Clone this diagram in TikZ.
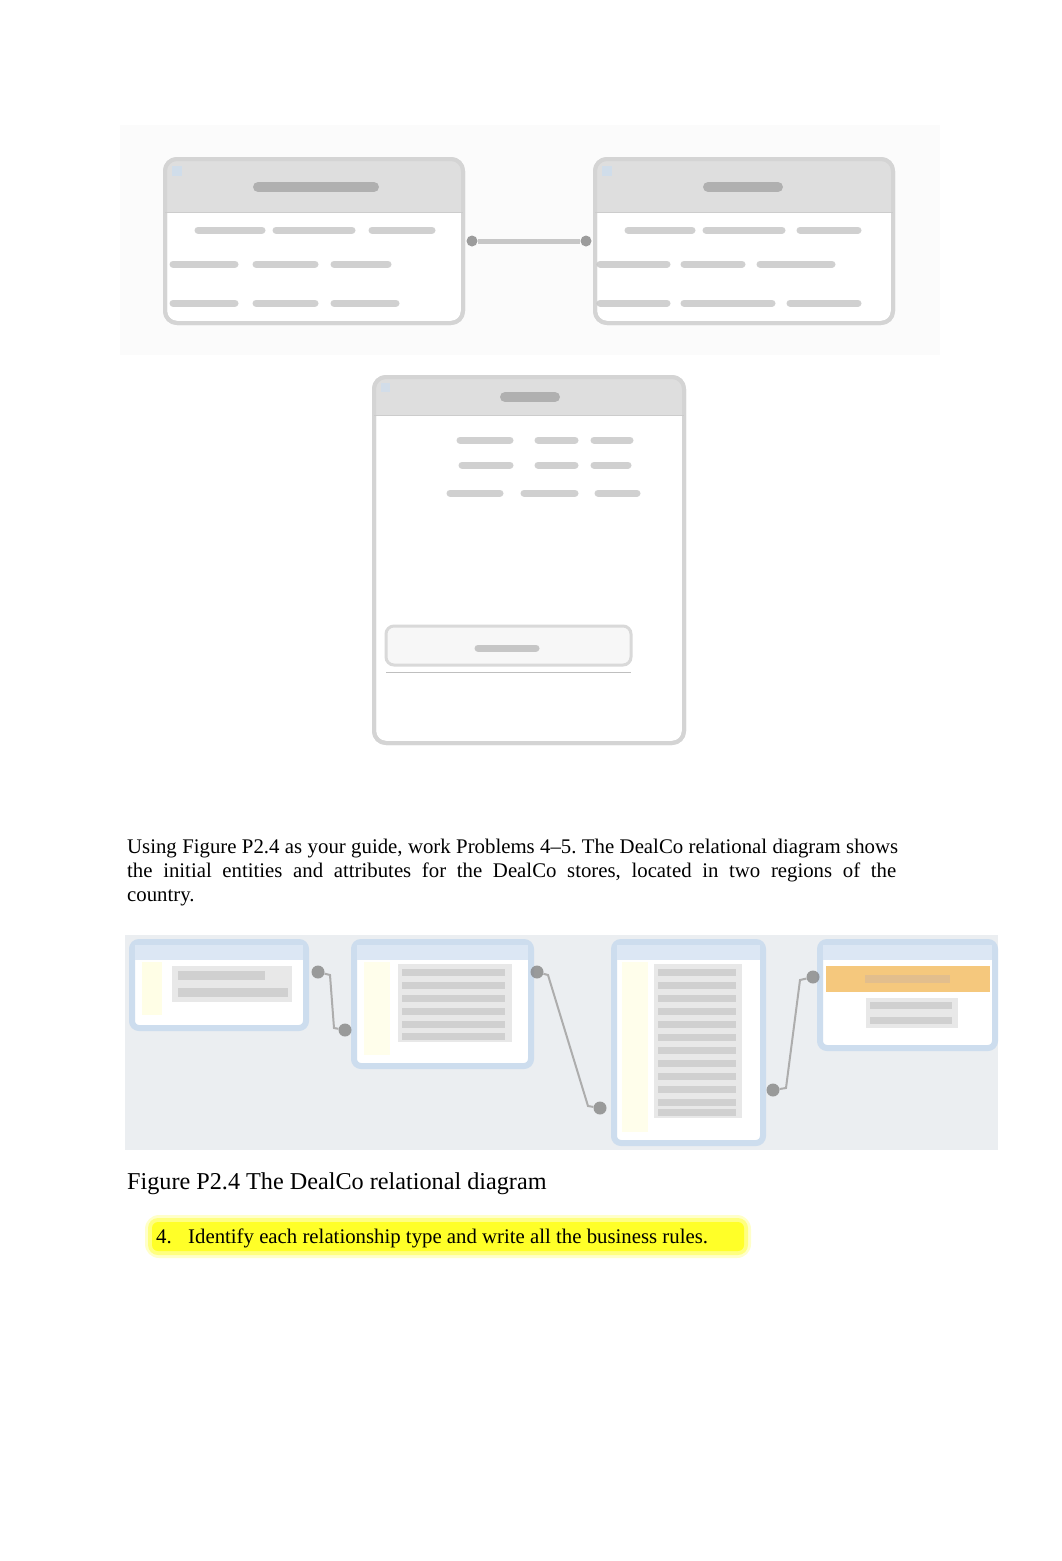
\documentclass[tikz,border=0pt]{standalone}
\usepackage{fontspec}
\setmainfont{Liberation Serif}
\definecolor{bgblue}{RGB}{235,238,241}
\definecolor{boxblue}{RGB}{205,221,238}
\definecolor{headblue}{RGB}{220,231,244}
\definecolor{rowor}{RGB}{245,200,125}
\definecolor{hiyel}{RGB}{255,255,40}
\begin{document}
\begin{tikzpicture}[x=1pt,y=-1pt,
  gbox/.style={draw=black!17,line width=4pt,rounded corners=12pt,fill=white},
  ghead/.style={fill=black!13},
  gtxt/.style={draw=black!45,line width=10pt,line cap=round,opacity=0.55},
  gtxtl/.style={draw=black!30,line width=7pt,line cap=round,opacity=0.6},
  bbox/.style={draw=boxblue,line width=6pt,rounded corners=7pt,fill=white},
  btxt/.style={draw=black!22,line width=9pt,opacity=0.7},
  cdot/.style={circle,fill=black!48,inner sep=0pt,minimum size=13pt,opacity=0.8},
  conn/.style={draw=black!32,line width=2pt},
  para/.style={anchor=base west,inner sep=0pt,font=\fontsize{20.8}{24}\selectfont}
]
\useasboundingbox (0,0) rectangle (1062,1561);
\fill[white] (0,0) rectangle (1062,1561);
\frenchspacing

% ---------- top figure ----------
\fill[black!1.5] (120,125) rectangle (940,355);

% CUSTOMER
\draw[gbox] (165,159) rectangle (463,323);
\begin{scope}
\clip[rounded corners=12pt] (165,159) rectangle (463,323);
\fill[ghead] (165,159) rectangle (463,212);
\end{scope}
\draw[gbox,fill=none] (165,159) rectangle (463,323);
\draw[black!20,line width=1pt] (165,212) -- (463,212);
\fill[boxblue,opacity=0.8] (172,166) rectangle (182,176);
\draw[gtxt] (258,187) -- (374,187);
\draw[gtxtl] (198,230) -- (262,230) (276,230) -- (352,230) (372,230) -- (432,230);
\draw[gtxtl] (173,264) -- (235,264) (256,264) -- (315,264) (334,264) -- (388,264);
\draw[gtxtl] (173,303) -- (235,303) (256,303) -- (315,303) (334,303) -- (396,303);

% AGENT
\draw[gbox] (595,159) rectangle (893,323);
\begin{scope}
\clip[rounded corners=12pt] (595,159) rectangle (893,323);
\fill[ghead] (595,159) rectangle (893,212);
\end{scope}
\draw[gbox,fill=none] (595,159) rectangle (893,323);
\draw[black!20,line width=1pt] (595,212) -- (893,212);
\fill[boxblue,opacity=0.8] (602,166) rectangle (612,176);
\draw[gtxt] (708,187) -- (778,187);
\draw[gtxtl] (628,230) -- (692,230) (706,230) -- (782,230) (800,230) -- (858,230);
\draw[gtxtl] (600,264) -- (667,264) (684,264) -- (742,264) (760,264) -- (832,264);
\draw[gtxtl] (600,303) -- (667,303) (684,303) -- (772,303) (790,303) -- (858,303);

% connector CUSTOMER - AGENT
\node[cdot,minimum size=11pt] (c1) at (472,241) {};
\node[cdot,minimum size=11pt] (a1) at (586,241) {};
\draw[conn,draw=black!22,line width=5pt] (c1) -- (a1);

% third box
\draw[gbox] (374,377) rectangle (684,743);
\begin{scope}
\clip[rounded corners=12pt] (374,377) rectangle (684,743);
\fill[ghead] (374,377) rectangle (684,415);
\end{scope}
\draw[gbox,fill=none] (374,377) rectangle (684,743);
\draw[black!20,line width=1pt] (374,415) -- (684,415);
\fill[boxblue,opacity=0.7] (381,383) rectangle (390,392);
\draw[gtxt] (505,397) -- (555,397);
\draw[gtxtl] (460,440) -- (510,440) (538,440) -- (575,440) (594,440) -- (630,440);
\draw[gtxtl] (462,465) -- (510,465) (538,465) -- (575,465) (594,465) -- (628,465);
\draw[gtxtl] (450,493) -- (500,493) (524,493) -- (575,493) (598,493) -- (637,493);
\draw[draw=black!15,line width=3pt,rounded corners=8pt,fill=black!3] (386,626) rectangle (631,665);
\draw[gtxtl,draw=black!35] (478,648) -- (536,648);
\draw[black!25,line width=1pt] (386,672) -- (631,672);

% ---------- paragraph ----------
\node[para] (p1) at (127,853) {\makebox[771pt][s]{Using Figure P2.4 as your guide, work Problems 4--5. The DealCo relational diagram shows}};
\node[para] (p2) at (127,877) {\makebox[769pt][s]{the initial entities and attributes for the DealCo stores, located in two regions of the}};
\node[para] (p3) at (127,901) {country.};

% ---------- bottom figure ----------
\fill[bgblue] (125,935) rectangle (998,1150);

% box 1
\draw[bbox] (132,942) rectangle (306,1028);
\fill[headblue] (135,945) rectangle (303,960);
\fill[yellow!10] (142,962) rectangle (162,1015);
\fill[black!9] (172,966) rectangle (292,1002);
\draw[btxt] (178,975) -- (265,975);
\draw[btxt] (178,992) -- (288,992);

% box 2
\draw[bbox] (354,942) rectangle (531,1066);
\fill[headblue] (357,945) rectangle (528,960);
\fill[yellow!8] (364,962) rectangle (390,1055);
\fill[black!9] (398,964) rectangle (512,1042);
\foreach \yy in {972,985,998,1011,1024,1036} \draw[btxt,line width=7pt] (402,\yy) -- (505,\yy);

% box 3
\draw[bbox] (614,942) rectangle (763,1143);
\fill[headblue] (617,945) rectangle (760,960);
\fill[yellow!8] (622,962) rectangle (648,1132);
\fill[black!9] (654,964) rectangle (742,1118);
\foreach \yy in {972,985,998,1011,1024,1037,1050,1063,1076,1089,1102,1112} \draw[btxt,line width=7pt] (658,\yy) -- (736,\yy);

% box 4
\draw[bbox] (820,942) rectangle (995,1048);
\fill[headblue] (823,945) rectangle (992,960);
\fill[rowor] (826,966) rectangle (990,992);
\draw[draw=orange!60!black!40,line width=8pt,opacity=0.6] (865,979) -- (950,979);
\fill[black!9] (866,998) rectangle (958,1028);
\draw[btxt,line width=7pt] (870,1005) -- (952,1005);
\draw[btxt,line width=7pt] (870,1020) -- (952,1020);

% connectors
\node[cdot] (d1) at (318,972) {};
\node[cdot] (d2) at (345,1030) {};
\node[cdot] (d3) at (537,972) {};
\node[cdot] (d4) at (600,1108) {};
\node[cdot] (d5) at (773,1090) {};
\node[cdot] (d6) at (813,977) {};
\draw[conn] (d1) -- (330,975) -- (334,1028) -- (d2);
\draw[conn] (d3) -- (548,975) -- (588,1106) -- (d4);
\draw[conn] (d5) -- (786,1088) -- (800,980) -- (d6);

% ---------- caption ----------
\node[anchor=base west,inner sep=0pt,font=\fontsize{24.2}{28}\selectfont] (cap) at (127,1189) {Figure P2.4 The DealCo relational diagram};

% ---------- highlighted item ----------
\fill[hiyel,opacity=0.25,rounded corners=14pt] (145,1215) rectangle (751,1258);
\fill[hiyel,opacity=0.45,rounded corners=10pt] (148,1218) rectangle (748,1255);
\fill[hiyel,rounded corners=6pt] (152,1222) rectangle (744,1251);
\node[anchor=base west,inner sep=0pt,font=\fontsize{20.8}{24}\selectfont] (n4) at (156,1243) {4.};
\node[anchor=base west,inner sep=0pt,font=\fontsize{20.8}{24}\selectfont] (it4) at (188,1243) {Identify each relationship type and write all the business rules.};
\end{tikzpicture}
\end{document}
